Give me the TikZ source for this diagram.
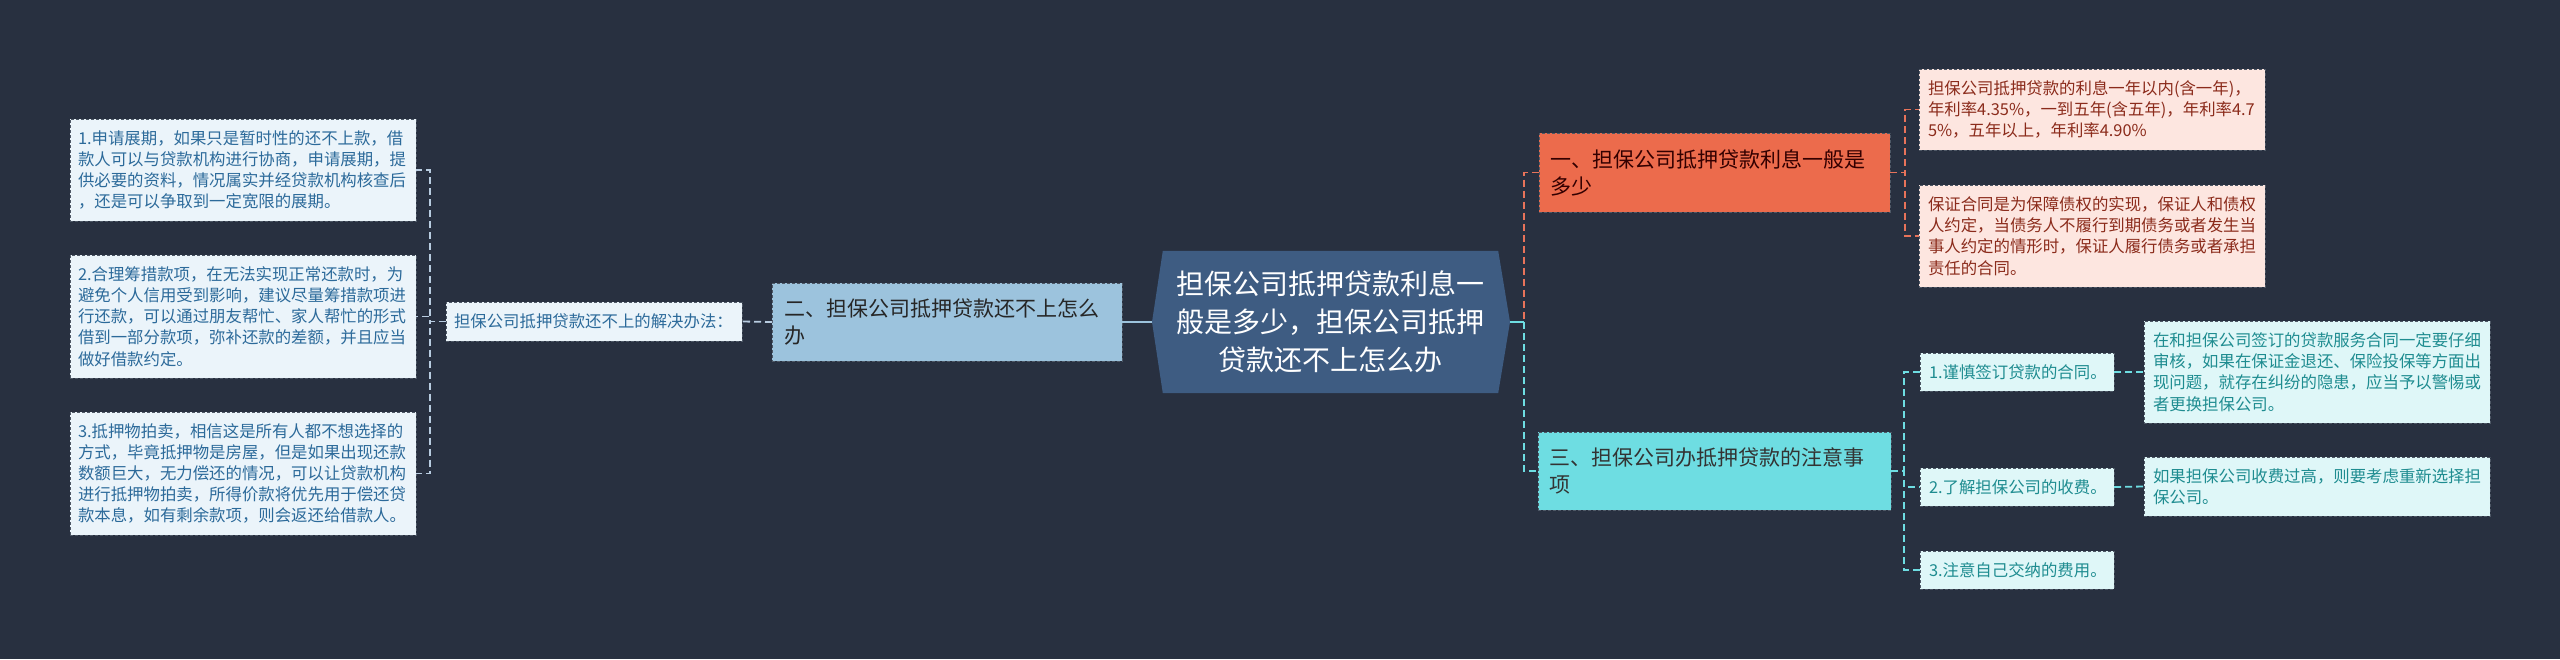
\documentclass[tikz,border=0pt]{standalone}
\usepackage{fontspec}
\setmainfont{Noto Sans CJK SC}
\pgfdeclarelayer{bg}
\pgfsetlayers{bg,main}
\definecolor{bgcol}{HTML}{283040}
\definecolor{rootcol}{HTML}{3E5C82}
\definecolor{twocol}{HTML}{9CC3DD}
\definecolor{onecol}{HTML}{EC6B4C}
\definecolor{threecol}{HTML}{6EDDE2}
\definecolor{leafLfill}{HTML}{EBF4FA}
\definecolor{leafLtext}{HTML}{2C6A9A}
\definecolor{leafOfill}{HTML}{FDE6E0}
\definecolor{leafOtext}{HTML}{8B2B1B}
\definecolor{leafCfill}{HTML}{DFF7F8}
\definecolor{leafCtext}{HTML}{1E8C90}
\definecolor{lineLcol}{HTML}{B8CCE0}
\definecolor{lineOcol}{HTML}{E8735A}
\definecolor{borderdark}{HTML}{4E5866}
\tikzset{
  x=1pt, y=-1pt,
  boxbase/.style={draw=borderdark, dash pattern=on 3pt off 2pt, line width=1pt,
    anchor=north west, align=left, inner ysep=0pt, outer sep=0pt},
  small/.style={font=\fontsize{16.4}{21.2}\selectfont},
  big/.style={font=\fontsize{21}{27}\selectfont},
  leafL/.style={boxbase, small, fill=leafLfill, text=leafLtext, inner xsep=8pt},
  leafO/.style={boxbase, small, fill=leafOfill, text=leafOtext, inner xsep=9pt},
  leafC/.style={boxbase, small, fill=leafCfill, text=leafCtext, inner xsep=9pt},
  branch/.style={boxbase, big, inner xsep=11pt},
  lineL/.style={draw=lineLcol, line width=1.8pt, dash pattern=on 7pt off 4pt},
  lineO/.style={draw=lineOcol, line width=1.8pt, dash pattern=on 7pt off 4pt},
  lineC/.style={draw=threecol, line width=1.8pt, dash pattern=on 7pt off 4pt},
}
\begin{document}
\begin{tikzpicture}
\begin{pgfonlayer}{bg}
\fill[bgcol] (0,0) rectangle (2560,659);
\end{pgfonlayer}
\useasboundingbox (0,0) rectangle (2560,659);

% root
\node[font=\fontsize{28}{38}\selectfont, text=white, align=center,
      minimum width=335pt, minimum height=142pt, inner sep=0pt] (root) at (1330.5,322)
  {担保公司抵押贷款利息一\\般是多少，担保公司抵押\\贷款还不上怎么办};
\coordinate (rootL) at (1152,322);
\coordinate (rootR) at (1510,322);
\begin{pgfonlayer}{bg}
\fill[rootcol] (rootL) -- (root.north west) -- (root.north east) -- (rootR)
  -- (root.south east) -- (root.south west) -- cycle;
\end{pgfonlayer}

% left branch
\node[branch, fill=twocol, text=black!85, text width=326pt, minimum height=78pt, inner xsep=12pt] (two) at (772,283)
  {二、担保公司抵押贷款还不上怎么\\办};
\node[leafL, text width=280pt, minimum height=39pt] (mid) at (446,302)
  {担保公司抵押贷款还不上的解决办法：};
\node[leafL, text width=330pt, minimum height=102pt] (L1) at (70,119)
  {1.申请展期，如果只是暂时性的还不上款，借\\款人可以与贷款机构进行协商，申请展期，提\\供必要的资料，情况属实并经贷款机构核查后\\，还是可以争取到一定宽限的展期。};
\node[leafL, text width=330pt, minimum height=123pt] (L2) at (70,255)
  {2.合理筹措款项，在无法实现正常还款时，为\\避免个人信用受到影响，建议尽量筹措款项进\\行还款，可以通过朋友帮忙、家人帮忙的形式\\借到一部分款项，弥补还款的差额，并且应当\\做好借款约定。};
\node[leafL, text width=330pt, minimum height=123pt] (L3) at (70,412)
  {3.抵押物拍卖，相信这是所有人都不想选择的\\方式，毕竟抵押物是房屋，但是如果出现还款\\数额巨大，无力偿还的情况，可以让贷款机构\\进行抵押物拍卖，所得价款将优先用于偿还贷\\款本息，如有剩余款项，则会返还给借款人。};

\draw[draw=twocol, line width=1.8pt] (rootL) -- (two.east);
\draw[lineL] (two.west) -- (mid.east);
\draw[lineL] (mid.west) -- ++(-16,0) |- (L1.east);
\draw[lineL] (mid.west) -- ++(-16,0) |- (L2.east);
\draw[lineL] (mid.west) -- ++(-16,0) |- (L3.east);

% right branch one
\node[branch, fill=onecol, text=black!80!red, text width=329pt, minimum height=79pt] (one) at (1539,133)
  {一、担保公司抵押贷款利息一般是\\多少};
\node[leafO, text width=328pt, minimum height=81pt] (o1) at (1919,69)
  {担保公司抵押贷款的利息一年以内(含一年)，\\年利率4.35\%，一到五年(含五年)，年利率4.7\\5\%，五年以上，年利率4.90\%};
\node[leafO, text width=328pt, minimum height=102pt] (o2) at (1919,185)
  {保证合同是为保障债权的实现，保证人和债权\\人约定，当债务人不履行到期债务或者发生当\\事人约定的情形时，保证人履行债务或者承担\\责任的合同。};

% right branch three
\node[branch, fill=threecol, text=black!80, text width=331pt, minimum height=78pt] (three) at (1538,432)
  {三、担保公司办抵押贷款的注意事\\项};
\node[leafC, text width=176pt, minimum height=38pt] (t1) at (1920,353) {1.谨慎签订贷款的合同。};
\node[leafC, text width=176pt, minimum height=38pt] (t2) at (1920,468) {2.了解担保公司的收费。};
\node[leafC, text width=176pt, minimum height=38pt] (t3) at (1920,551) {3.注意自己交纳的费用。};
\node[leafC, text width=328pt, minimum height=102pt] (g1) at (2144,321)
  {在和担保公司签订的贷款服务合同一定要仔细\\审核，如果在保证金退还、保险投保等方面出\\现问题，就存在纠纷的隐患，应当予以警惕或\\者更换担保公司。};
\node[leafC, text width=328pt, minimum height=59pt] (g2) at (2144,457)
  {如果担保公司收费过高，则要考虑重新选择担\\保公司。};

\coordinate (jR) at (1524,322);
\draw[lineO] (one.west) -| (jR);
\draw[lineC] (jR) |- (three.west);
\draw[draw=threecol, line width=1.8pt] (rootR) -- (jR);
\draw[lineO] (one.east) -- ++(15,0) |- (o1.west);
\draw[lineO] (one.east) -- ++(15,0) |- (o2.west);
\draw[lineC] (three.east) -- ++(13,0) |- (t1.west);
\draw[lineC] (three.east) -- ++(13,0) |- (t2.west);
\draw[lineC] (three.east) -- ++(13,0) |- (t3.west);
\draw[lineC] (t1.east) -- (g1.west);
\draw[lineC] (t2.east) -- (g2.west);
\end{tikzpicture}
\end{document}
